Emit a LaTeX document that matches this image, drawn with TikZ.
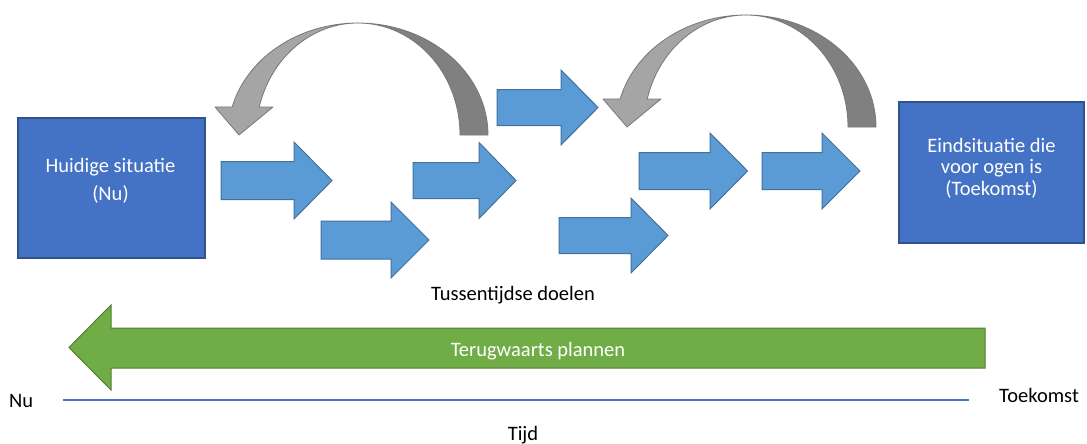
\documentclass[tikz,border=0pt]{standalone}
\usepackage{fontspec}
\setmainfont{Carlito}
\definecolor{boxblue}{HTML}{4472C4}
\definecolor{boxedge}{HTML}{2F528F}
\definecolor{arrblue}{HTML}{5B9BD5}
\definecolor{arredge}{HTML}{41719C}
\definecolor{graylight}{HTML}{A5A5A5}
\definecolor{graydark}{HTML}{808080}
\definecolor{grayedge}{HTML}{787878}
\definecolor{plangreen}{HTML}{70AD47}
\definecolor{greenedge}{HTML}{507E32}
\definecolor{axisblue}{HTML}{4472C4}
\tikzset{
  txt/.style={font=\fontsize{20.5}{24}\selectfont, inner sep=0pt, anchor=base},
  boxtxt/.style={txt, text=white},
  statebox/.style={draw=boxedge, fill=boxblue, line width=1.3pt, inner sep=0pt},
  goalstyle/.style={draw=arredge, fill=arrblue, line width=1pt, line join=miter},
  planstyle/.style={draw=greenedge, fill=plangreen, line width=1pt},
  backlight/.style={draw=grayedge, fill=graylight, line width=0.8pt, line join=round},
  backdark/.style={draw=grayedge, fill=graydark, line width=0.8pt, line join=round},
  timeline/.style={draw=axisblue, line width=1.1pt},
  curvedback/.pic={
    % dark back part: right end up to the top
    \filldraw[backdark] (102,0) -- (130,0)
      -- plot[domain=0:1,samples=40] ({130*cos(-90*\x)},{112*sin(-90*\x)})
      -- plot[domain=0:1,samples=40] ({102*cos(-90+90*\x)},{112*sin(-90+90*\x)})
      -- cycle;
    % light front part with the head
    \filldraw[backlight] (0,-112)
      -- plot[domain=0:1,samples=40] ({130*cos(-90-75.5*\x)},{112*sin(-90-75.5*\x)})
      -- (-143,-28) -- (-119,0) -- (-85,-28) -- (-98.8,-28)
      -- plot[domain=0:1,samples=40] ({102*cos(-165.5+75.5*\x)},{112*sin(-165.5+75.5*\x)})
      -- cycle;
  }
}
\newcommand\goalarrow[6]{%
  \filldraw[goalstyle] (#1,#4-#5) -- (#2,#4-#5) -- (#2,#4-#6) -- (#3,#4)
    -- (#2,#4+#6) -- (#2,#4+#5) -- (#1,#4+#5) -- cycle;}
\begin{document}
\begin{tikzpicture}[x=1pt,y=-1pt]
\useasboundingbox[fill=white] (0,0) rectangle (1087,444);

% curved feedback arrows
\pic (back1) at (358,135) {curvedback};
\pic (back2) at (746,127) {curvedback};

% boxes
\node[statebox, minimum width=187pt, minimum height=140pt] (now) at (111.5,188) {};
\node[statebox, minimum width=185pt, minimum height=141pt] (goal) at (991.5,172.5) {};
\node[boxtxt] (nowa) at (110.5,172) {Huidige situatie};
\node[boxtxt] (nowb) at (110.5,200) {(Nu)};
\node[boxtxt] (goala) at (991.5,152) {Eindsituatie die};
\node[boxtxt] (goalb) at (991.5,173.5) {voor ogen is};
\node[boxtxt] (goalc) at (991.5,195) {(Toekomst)};

% intermediate goal arrows
\goalarrow{221}{294}{332}{180.5}{19}{38.5}
\goalarrow{321}{391}{429}{240}{19}{38}
\goalarrow{413}{479}{516}{180.5}{18}{38}
\goalarrow{497}{561}{598}{107.5}{18}{37.5}
\goalarrow{559}{631}{668}{235.5}{18}{37.5}
\goalarrow{639}{710}{747.5}{171}{18.5}{38}
\goalarrow{762}{822}{860}{171}{18.5}{38}

\node[txt] (mid) at (513,300) {Tussentijdse doelen};

% backward planning arrow
\filldraw[planstyle] (985,328) -- (111,328) -- (111,305) -- (69,347.5)
  -- (111,390) -- (111,368) -- (985,368) -- cycle;
\node[txt, text=white] (plan) at (538,356) {Terugwaarts plannen};

% time axis
\coordinate (tstart) at (63,400);
\coordinate (tend) at (969,400);
\draw[timeline] (tstart) -- (tend);
\node[txt, anchor=base west] (nu) at (9,407) {Nu};
\node[txt, anchor=base west] (future) at (999,402) {Toekomst};
\node[txt] (time) at (523,440) {Tijd};
\end{tikzpicture}
\end{document}
